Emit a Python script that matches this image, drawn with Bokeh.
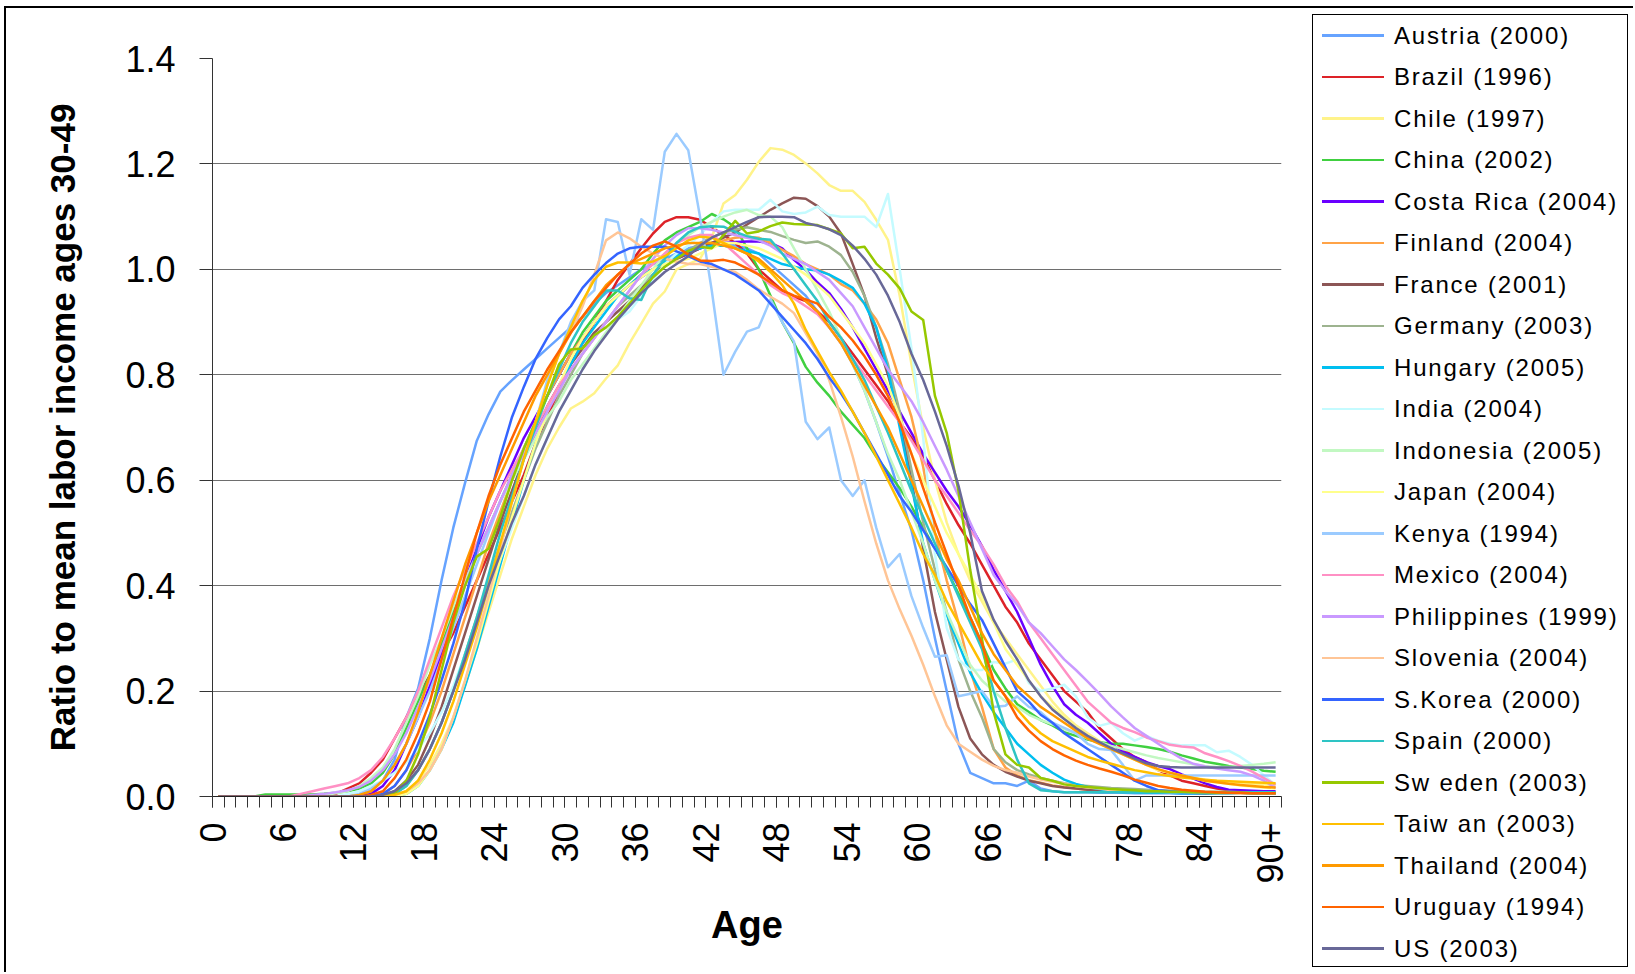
import math
from bokeh.plotting import figure
from bokeh.layouts import row
from bokeh.models import Range1d, FixedTicker, NumeralTickFormatter, Div
from bokeh.embed import file_html
from bokeh.resources import INLINE

ages = list(range(91))
tick_ages = [0, 6, 12, 18, 24, 30, 36, 42, 48, 54, 60, 66, 72, 78, 84, 90]
tick_labels = ["0", "6", "12", "18", "24", "30", "36", "42", "48", "54", "60", "66", "72", "78", "84", "90+"]
y_ticks = [0, 0.2, 0.4, 0.6, 0.8, 1.0, 1.2, 1.4]

names = ["Austria (2000)", "Brazil (1996)", "Chile (1997)", "China (2002)", "Costa Rica (2004)",
         "Finland (2004)", "France (2001)", "Germany (2003)", "Hungary (2005)", "India (2004)",
         "Indonesia (2005)", "Japan (2004)", "Kenya (1994)", "Mexico (2004)", "Philippines (1999)",
         "Slovenia (2004)", "S.Korea (2000)", "Spain (2000)", "Sw eden (2003)", "Taiw an (2003)",
         "Thailand (2004)", "Uruguay (1994)", "US (2003)"]

colors = ["#66A3FF", "#DD2228", "#FFF38A", "#40D040", "#6A00FF",
          "#FFA347", "#8C5656", "#9DB38F", "#00BFF0", "#C4FBFF",
          "#C2F8C2", "#FFFF8C", "#9BCBFF", "#FF90C4", "#C999FF",
          "#FFC596", "#3464FF", "#2EC4C4", "#96C800", "#FFBF00",
          "#FF9A00", "#FF6300", "#686898"]

austria = [
    0, 0, 0, 0, 0, 0, 0, 0, 0, 0,
    0, 0, 0.003, 0.01, 0.03, 0.07, 0.15, 0.205, 0.3, 0.41,
    0.51, 0.595, 0.675, 0.725, 0.768, 0.79, 0.81, 0.83, 0.85, 0.87,
    0.89, 0.91, 0.935, 0.955, 0.97, 0.985, 1.0, 1.01, 1.02, 1.03,
    1.04, 1.045, 1.05, 1.05, 1.045, 1.04, 1.03, 1.01, 0.99, 0.97,
    0.95, 0.92, 0.89, 0.86, 0.82, 0.77, 0.71, 0.645, 0.575, 0.505,
    0.41, 0.3, 0.2, 0.1, 0.045, 0.035, 0.025, 0.025, 0.02, 0.03,
    0.015, 0.01, 0.008, 0.008, 0.008, 0.007, 0.007, 0.007, 0.006, 0.006,
    0.006, 0.006, 0.005, 0.005, 0.005, 0.005, 0.005, 0.005, 0.005, 0.005,
    0.005]
brazil = [
    0, 0, 0, 0, 0, 0, 0, 0, 0, 0,
    0.005, 0.015, 0.025, 0.045, 0.07, 0.11, 0.15, 0.19, 0.23, 0.27,
    0.31, 0.36, 0.41, 0.46, 0.51, 0.56, 0.61, 0.67, 0.72, 0.77,
    0.82, 0.86, 0.9, 0.94, 0.98, 1.01, 1.04, 1.068, 1.09, 1.099,
    1.099, 1.094, 1.08, 1.065, 1.05, 1.03, 1.0, 0.98, 0.96, 0.948,
    0.94, 0.92, 0.9, 0.87, 0.84, 0.81, 0.78, 0.75, 0.71, 0.68,
    0.645, 0.6, 0.555, 0.515, 0.48, 0.44, 0.4, 0.36, 0.33, 0.29,
    0.26, 0.23, 0.2, 0.18, 0.16, 0.13, 0.11, 0.09, 0.075, 0.065,
    0.05, 0.04, 0.03, 0.025, 0.02, 0.015, 0.012, 0.01, 0.008, 0.006,
    0.005]
chile = [
    0, 0, 0, 0, 0, 0, 0, 0, 0, 0,
    0, 0, 0, 0, 0, 0.003, 0.01, 0.03, 0.06, 0.1,
    0.15, 0.21, 0.28, 0.35, 0.42, 0.49, 0.55, 0.61, 0.66, 0.7,
    0.736, 0.749, 0.765, 0.793, 0.818, 0.86, 0.897, 0.935, 0.958, 1.0,
    1.01, 1.02, 1.06, 1.125, 1.141, 1.17, 1.204, 1.23, 1.227, 1.217,
    1.201, 1.182, 1.16, 1.149, 1.149, 1.128, 1.094, 1.056, 0.95, 0.82,
    0.7, 0.6, 0.52, 0.46, 0.41, 0.37, 0.33, 0.3, 0.27, 0.24,
    0.21, 0.18, 0.155, 0.135, 0.12, 0.105, 0.09, 0.08, 0.07, 0.06,
    0.05, 0.045, 0.04, 0.036, 0.032, 0.03, 0.028, 0.026, 0.024, 0.022,
    0.02]
china = [
    0, 0, 0, 0, 0.004, 0.004, 0.004, 0.004, 0.004, 0.005,
    0.007, 0.01, 0.015, 0.025, 0.045, 0.08, 0.13, 0.18, 0.23, 0.29,
    0.35, 0.41, 0.46, 0.51, 0.56, 0.61, 0.66, 0.71, 0.76, 0.8,
    0.84, 0.88, 0.91, 0.94, 0.96, 0.98, 1.0, 1.03, 1.055, 1.07,
    1.08, 1.09, 1.105, 1.095, 1.08, 1.04, 1.0, 0.95, 0.9, 0.86,
    0.815, 0.785, 0.76, 0.73, 0.705, 0.68, 0.645, 0.615, 0.585, 0.55,
    0.51, 0.47, 0.43, 0.385, 0.34, 0.29, 0.24, 0.205, 0.175, 0.16,
    0.145, 0.135, 0.122, 0.115, 0.108, 0.103, 0.1, 0.1, 0.097, 0.094,
    0.09, 0.085, 0.078, 0.072, 0.066, 0.062, 0.058, 0.055, 0.052, 0.049,
    0.047]
costa_rica = [
    0, 0, 0, 0, 0, 0, 0, 0, 0, 0,
    0, 0, 0, 0.005, 0.02, 0.05, 0.1, 0.15, 0.21, 0.27,
    0.34, 0.41, 0.47, 0.53, 0.58, 0.63, 0.68, 0.72, 0.76, 0.8,
    0.84, 0.87, 0.9, 0.93, 0.95, 0.97, 0.985, 1.0, 1.01, 1.02,
    1.03, 1.04, 1.045, 1.05, 1.052, 1.053, 1.053, 1.05, 1.04, 1.018,
    0.999, 0.975, 0.955, 0.925, 0.89, 0.85, 0.81, 0.77, 0.73, 0.69,
    0.65, 0.615, 0.58, 0.55, 0.515, 0.475, 0.43, 0.39, 0.35, 0.3,
    0.25, 0.21, 0.175, 0.155, 0.14, 0.12, 0.1, 0.085, 0.075, 0.065,
    0.058, 0.052, 0.042, 0.034, 0.025, 0.018, 0.013, 0.012, 0.011, 0.01,
    0.01]
finland = [
    0, 0, 0, 0, 0, 0, 0, 0, 0, 0,
    0, 0, 0, 0, 0.005, 0.02, 0.05, 0.09, 0.14, 0.2,
    0.27, 0.34, 0.41, 0.48, 0.54, 0.6, 0.66, 0.71, 0.76, 0.8,
    0.84, 0.87, 0.9, 0.93, 0.95, 0.97, 0.99, 1.0, 1.015, 1.025,
    1.035, 1.045, 1.05, 1.055, 1.06, 1.062, 1.06, 1.05, 1.037, 1.025,
    1.01, 1.0, 0.99, 0.972, 0.96, 0.935, 0.905, 0.86, 0.79, 0.72,
    0.625, 0.5, 0.41, 0.33, 0.24, 0.17, 0.09, 0.055, 0.04, 0.031,
    0.026, 0.021, 0.018, 0.015, 0.013, 0.011, 0.01, 0.01, 0.009, 0.009,
    0.008, 0.008, 0.007, 0.007, 0.006, 0.006, 0.006, 0.005, 0.005, 0.005,
    0.005]
france = [
    0, 0, 0, 0, 0, 0, 0, 0, 0, 0,
    0, 0, 0, 0, 0.003, 0.01, 0.03, 0.06, 0.11, 0.17,
    0.24, 0.31, 0.38, 0.45, 0.52, 0.58, 0.64, 0.69, 0.74, 0.78,
    0.82, 0.85, 0.88, 0.9, 0.92, 0.94, 0.965, 0.99, 1.01, 1.02,
    1.03, 1.04, 1.05, 1.06, 1.07, 1.085, 1.099, 1.113, 1.125, 1.136,
    1.134, 1.12, 1.1, 1.068, 1.01, 0.95, 0.87, 0.8, 0.72, 0.6,
    0.47, 0.35, 0.26, 0.17, 0.11, 0.08, 0.06, 0.047, 0.038, 0.03,
    0.025, 0.02, 0.017, 0.015, 0.013, 0.012, 0.01, 0.01, 0.009, 0.009,
    0.008, 0.008, 0.007, 0.007, 0.006, 0.006, 0.006, 0.005, 0.005, 0.005,
    0.005]
germany = [
    0, 0, 0, 0, 0, 0, 0, 0, 0, 0,
    0, 0, 0, 0, 0, 0.005, 0.02, 0.05, 0.09, 0.14,
    0.2, 0.27, 0.34, 0.41, 0.48, 0.54, 0.6, 0.66, 0.71, 0.76,
    0.8, 0.84, 0.87, 0.9, 0.93, 0.95, 0.97, 0.99, 1.005, 1.02,
    1.035, 1.05, 1.06, 1.07, 1.075, 1.08, 1.075, 1.071, 1.063, 1.056,
    1.05, 1.053, 1.043, 1.027, 0.995, 0.95, 0.89, 0.82, 0.73, 0.62,
    0.52, 0.43, 0.35, 0.26, 0.2, 0.15, 0.09, 0.065, 0.05, 0.042,
    0.035, 0.03, 0.025, 0.022, 0.02, 0.018, 0.016, 0.015, 0.014, 0.013,
    0.012, 0.011, 0.01, 0.01, 0.009, 0.009, 0.009, 0.008, 0.008, 0.008,
    0.008]
hungary = [
    0, 0, 0, 0, 0, 0, 0, 0, 0, 0,
    0, 0, 0, 0, 0, 0, 0.005, 0.02, 0.05, 0.09,
    0.14, 0.21, 0.28, 0.36, 0.44, 0.52, 0.6, 0.67, 0.73, 0.78,
    0.82, 0.86, 0.89, 0.92, 0.95, 0.97, 0.99, 1.0, 1.015, 1.025,
    1.035, 1.04, 1.045, 1.045, 1.04, 1.035, 1.03, 1.02, 1.01, 1.005,
    1.0, 0.998, 0.99, 0.978, 0.965, 0.935, 0.89, 0.81, 0.7, 0.59,
    0.48, 0.41, 0.345, 0.29, 0.235, 0.195, 0.16, 0.13, 0.1, 0.08,
    0.06, 0.045, 0.032, 0.024, 0.018, 0.014, 0.01, 0.008, 0.008, 0.007,
    0.007, 0.007, 0.006, 0.006, 0.006, 0.005, 0.005, 0.005, 0.005, 0.005,
    0.005]
india = [
    0, 0, 0, 0, 0, 0, 0, 0, 0, 0,
    0, 0.005, 0.01, 0.02, 0.03, 0.045, 0.065, 0.09, 0.12, 0.16,
    0.21, 0.27, 0.33, 0.39, 0.45, 0.51, 0.57, 0.63, 0.68, 0.73,
    0.77, 0.81, 0.85, 0.88, 0.905, 0.92, 0.95, 0.98, 1.01, 1.03,
    1.045, 1.065, 1.09, 1.11, 1.113, 1.113, 1.113, 1.132, 1.11, 1.105,
    1.108, 1.119, 1.103, 1.1, 1.1, 1.1, 1.08, 1.143, 1.0, 0.85,
    0.68, 0.46, 0.32, 0.26, 0.24, 0.24, 0.255, 0.252, 0.26, 0.215,
    0.2, 0.205, 0.212, 0.19, 0.15, 0.134, 0.14, 0.12, 0.106, 0.115,
    0.106, 0.1, 0.097, 0.097, 0.097, 0.084, 0.087, 0.075, 0.06, 0.04,
    0.022]
indonesia = [
    0, 0, 0, 0, 0, 0, 0, 0, 0, 0.003,
    0.006, 0.01, 0.02, 0.035, 0.055, 0.09, 0.14, 0.19, 0.25, 0.3,
    0.36, 0.41, 0.46, 0.51, 0.56, 0.6, 0.64, 0.68, 0.72, 0.75,
    0.79, 0.82, 0.85, 0.88, 0.91, 0.94, 0.97, 1.0, 1.03, 1.05,
    1.065, 1.08, 1.09, 1.1, 1.108, 1.113, 1.103, 1.1, 1.08, 1.04,
    1.0, 0.96, 0.92, 0.87, 0.82, 0.77, 0.71, 0.65, 0.6, 0.54,
    0.48, 0.41, 0.35, 0.3, 0.25, 0.22, 0.2, 0.18, 0.17, 0.155,
    0.145, 0.137, 0.128, 0.12, 0.11, 0.103, 0.096, 0.09, 0.084, 0.078,
    0.073, 0.069, 0.065, 0.061, 0.058, 0.056, 0.056, 0.058, 0.06, 0.062,
    0.065]
japan = [
    0, 0, 0, 0, 0, 0, 0, 0, 0, 0,
    0, 0, 0, 0, 0, 0, 0.005, 0.02, 0.05, 0.09,
    0.15, 0.22, 0.29, 0.37, 0.45, 0.53, 0.6, 0.67, 0.73, 0.78,
    0.83, 0.87, 0.9, 0.93, 0.95, 0.97, 0.985, 1.0, 1.01, 1.015,
    1.02, 1.03, 1.04, 1.05, 1.05, 1.045, 1.04, 1.03, 1.02, 1.005,
    0.99, 0.97, 0.95, 0.92, 0.89, 0.86, 0.82, 0.78, 0.72, 0.65,
    0.6, 0.55, 0.5, 0.46, 0.42, 0.38, 0.33, 0.28, 0.25, 0.22,
    0.19, 0.17, 0.15, 0.13, 0.115, 0.1, 0.09, 0.08, 0.07, 0.06,
    0.05, 0.045, 0.04, 0.035, 0.03, 0.027, 0.024, 0.021, 0.019, 0.017,
    0.015]
kenya = [
    0, 0, 0, 0, 0, 0, 0, 0, 0, 0,
    0, 0, 0.005, 0.015, 0.03, 0.06, 0.1, 0.15, 0.2, 0.26,
    0.32, 0.38, 0.44, 0.5, 0.56, 0.61, 0.66, 0.71, 0.79, 0.84,
    0.9, 0.94, 0.96, 1.095, 1.09, 0.99, 1.095, 1.075, 1.223, 1.257,
    1.226, 1.1, 0.96, 0.8, 0.844, 0.882, 0.89, 0.943, 0.9, 0.863,
    0.711, 0.678, 0.7, 0.6, 0.57, 0.6, 0.51, 0.435, 0.46, 0.38,
    0.32, 0.265, 0.268, 0.19, 0.195, 0.2, 0.17, 0.172, 0.19, 0.17,
    0.16, 0.14, 0.13, 0.12, 0.1, 0.09, 0.088, 0.06, 0.03, 0.04,
    0.04, 0.04, 0.04, 0.04, 0.04, 0.04, 0.04, 0.04, 0.04, 0.04,
    0.04]
mexico = [
    0, 0, 0, 0, 0, 0, 0, 0.005, 0.01, 0.015,
    0.02, 0.025, 0.035, 0.05, 0.075, 0.11, 0.15, 0.2, 0.26, 0.32,
    0.38, 0.43, 0.48, 0.53, 0.58, 0.62, 0.66, 0.7, 0.74, 0.78,
    0.81, 0.84, 0.87, 0.9, 0.93, 0.96, 0.99, 1.01, 1.03, 1.05,
    1.06, 1.065, 1.065, 1.05, 1.03, 1.01, 0.99, 0.97, 0.955, 0.945,
    0.93, 0.915, 0.89, 0.86, 0.83, 0.8, 0.77, 0.74, 0.71, 0.675,
    0.638, 0.6, 0.57, 0.538, 0.505, 0.475, 0.44, 0.4, 0.37, 0.33,
    0.3, 0.27, 0.24, 0.21, 0.18, 0.16, 0.14, 0.13, 0.122, 0.112,
    0.105, 0.098, 0.095, 0.093, 0.082, 0.075, 0.067, 0.058, 0.047, 0.035,
    0.022]
philippines = [
    0, 0, 0, 0, 0, 0, 0, 0, 0.003, 0.005,
    0.008, 0.012, 0.018, 0.03, 0.05, 0.08, 0.12, 0.17, 0.22, 0.28,
    0.34, 0.4, 0.46, 0.51, 0.56, 0.61, 0.65, 0.69, 0.73, 0.77,
    0.81, 0.84, 0.87, 0.9, 0.93, 0.96, 0.99, 1.02, 1.045, 1.065,
    1.078, 1.078, 1.075, 1.07, 1.065, 1.06, 1.055, 1.045, 1.03, 1.02,
    1.01, 0.995, 0.98, 0.955, 0.93, 0.89, 0.85, 0.81, 0.78, 0.75,
    0.71, 0.665, 0.62, 0.57, 0.52, 0.47, 0.42, 0.39, 0.364, 0.33,
    0.31, 0.285, 0.26, 0.24, 0.218, 0.195, 0.171, 0.15, 0.13, 0.115,
    0.1, 0.085, 0.072, 0.062, 0.057, 0.053, 0.05, 0.047, 0.04, 0.03,
    0.016]
slovenia = [
    0, 0, 0, 0, 0, 0, 0, 0, 0, 0,
    0, 0, 0, 0, 0, 0.003, 0.01, 0.025, 0.05, 0.09,
    0.15, 0.22, 0.3, 0.38, 0.47, 0.56, 0.64, 0.71, 0.78, 0.84,
    0.879, 0.93, 0.99, 1.055, 1.07, 1.059, 1.043, 1.03, 1.02, 1.015,
    1.01, 1.01, 1.005, 1.0, 0.995, 0.98, 0.962, 0.948, 0.935, 0.917,
    0.879, 0.84, 0.79, 0.72, 0.645, 0.56, 0.48, 0.41, 0.355, 0.305,
    0.25, 0.19, 0.135, 0.1, 0.085, 0.07, 0.058, 0.05, 0.045, 0.038,
    0.032, 0.028, 0.024, 0.02, 0.017, 0.015, 0.012, 0.011, 0.01, 0.01,
    0.009, 0.008, 0.008, 0.007, 0.007, 0.006, 0.006, 0.005, 0.005, 0.005,
    0.005]
skorea = [
    0, 0, 0, 0, 0, 0, 0, 0, 0, 0,
    0, 0, 0, 0, 0.005, 0.02, 0.05, 0.1, 0.155, 0.22,
    0.29, 0.37, 0.47, 0.56, 0.645, 0.72, 0.777, 0.83, 0.87, 0.905,
    0.93, 0.965, 0.99, 1.012, 1.03, 1.04, 1.043, 1.043, 1.043, 1.034,
    1.025, 1.015, 1.01, 1.0, 0.99, 0.975, 0.96, 0.935, 0.91, 0.885,
    0.86, 0.83, 0.795, 0.765, 0.73, 0.69, 0.65, 0.61, 0.57, 0.54,
    0.505, 0.47, 0.435, 0.4, 0.365, 0.335, 0.29, 0.245, 0.2, 0.18,
    0.155, 0.14, 0.12, 0.105, 0.09, 0.075, 0.06, 0.045, 0.03, 0.02,
    0.012, 0.01, 0.008, 0.008, 0.008, 0.007, 0.007, 0.007, 0.006, 0.006,
    0.006]
spain = [
    0, 0, 0, 0, 0, 0, 0, 0, 0, 0,
    0, 0, 0, 0, 0, 0.005, 0.02, 0.05, 0.09, 0.14,
    0.2, 0.27, 0.34, 0.42, 0.5, 0.57, 0.64, 0.7, 0.76, 0.81,
    0.86, 0.9, 0.93, 0.96, 0.96, 0.945, 0.942, 0.99, 1.02, 1.05,
    1.07, 1.08, 1.082, 1.081, 1.071, 1.063, 1.058, 1.056, 1.03, 1.0,
    0.97, 0.94, 0.9, 0.87, 0.83, 0.79, 0.74, 0.69, 0.635, 0.58,
    0.53, 0.48, 0.43, 0.38, 0.33, 0.28, 0.2, 0.13, 0.07, 0.025,
    0.012, 0.01, 0.008, 0.008, 0.008, 0.008, 0.008, 0.008, 0.008, 0.008,
    0.008, 0.008, 0.008, 0.008, 0.008, 0.008, 0.008, 0.008, 0.008, 0.008,
    0.008]
sweden = [
    0, 0, 0, 0, 0, 0, 0, 0, 0, 0,
    0, 0, 0, 0, 0.002, 0.006, 0.03, 0.08, 0.15, 0.24,
    0.33, 0.4, 0.455, 0.47, 0.53, 0.6, 0.66, 0.71, 0.76, 0.82,
    0.848, 0.85, 0.875, 0.89, 0.91, 0.935, 0.96, 0.985, 1.005, 1.02,
    1.035, 1.043, 1.04, 1.065, 1.092, 1.068, 1.072, 1.082, 1.089, 1.086,
    1.085, 1.084, 1.076, 1.068, 1.04, 1.043, 1.011, 0.99, 0.964, 0.92,
    0.904, 0.76, 0.69, 0.58, 0.43, 0.3, 0.16, 0.08, 0.06, 0.055,
    0.035, 0.03, 0.023, 0.02, 0.018, 0.016, 0.014, 0.013, 0.012, 0.01,
    0.01, 0.009, 0.009, 0.008, 0.008, 0.007, 0.007, 0.007, 0.006, 0.006,
    0.006]
taiwan = [
    0, 0, 0, 0, 0, 0, 0, 0, 0, 0,
    0, 0, 0, 0, 0, 0.003, 0.01, 0.03, 0.07, 0.12,
    0.18, 0.25, 0.32, 0.4, 0.48, 0.56, 0.64, 0.71, 0.78, 0.84,
    0.89, 0.94, 0.98, 1.005, 1.013, 1.013, 1.011, 1.015, 1.025, 1.04,
    1.055, 1.062, 1.06, 1.05, 1.04, 1.03, 1.015, 0.995, 0.97, 0.935,
    0.885, 0.845, 0.805, 0.77, 0.73, 0.69, 0.645, 0.6, 0.555, 0.51,
    0.46, 0.42, 0.37, 0.33, 0.29, 0.25, 0.22, 0.19, 0.165, 0.14,
    0.12, 0.105, 0.095, 0.085, 0.075, 0.068, 0.062, 0.056, 0.05, 0.046,
    0.042, 0.039, 0.036, 0.034, 0.032, 0.03, 0.029, 0.028, 0.027, 0.026,
    0.025]
thailand = [
    0, 0, 0, 0, 0, 0, 0, 0, 0, 0,
    0, 0, 0.003, 0.01, 0.03, 0.06, 0.1, 0.16, 0.23, 0.3,
    0.37, 0.44, 0.5, 0.56, 0.61, 0.66, 0.71, 0.76, 0.8, 0.84,
    0.88, 0.91, 0.94, 0.97, 0.99, 1.01, 1.02, 1.03, 1.04, 1.045,
    1.05, 1.05, 1.05, 1.045, 1.04, 1.03, 1.02, 1.0, 0.98, 0.96,
    0.94, 0.92, 0.89, 0.86, 0.82, 0.78, 0.74, 0.7, 0.65, 0.6,
    0.55, 0.5, 0.45, 0.41, 0.36, 0.31, 0.27, 0.24, 0.21, 0.19,
    0.17, 0.155, 0.14, 0.125, 0.11, 0.1, 0.09, 0.08, 0.07, 0.06,
    0.052, 0.045, 0.04, 0.035, 0.03, 0.027, 0.024, 0.022, 0.02, 0.018,
    0.017]
uruguay = [
    0, 0, 0, 0, 0, 0, 0, 0, 0, 0,
    0, 0, 0, 0.003, 0.01, 0.035, 0.07, 0.12, 0.18, 0.26,
    0.34, 0.42, 0.5, 0.57, 0.63, 0.68, 0.73, 0.77, 0.81, 0.845,
    0.88, 0.91, 0.94, 0.965, 0.99, 1.01, 1.03, 1.045, 1.053, 1.043,
    1.028, 1.017, 1.016, 1.018, 1.013, 1.002, 0.99, 0.975, 0.96, 0.95,
    0.943, 0.935, 0.91, 0.89, 0.865, 0.835, 0.8, 0.76, 0.71, 0.65,
    0.585, 0.52, 0.46, 0.4, 0.34, 0.29, 0.22, 0.19, 0.15, 0.125,
    0.105, 0.09, 0.078, 0.068, 0.06, 0.053, 0.047, 0.04, 0.032, 0.026,
    0.02, 0.016, 0.013, 0.011, 0.009, 0.008, 0.007, 0.007, 0.006, 0.006,
    0.006]
us = [
    0, 0, 0, 0, 0, 0, 0, 0, 0, 0,
    0, 0, 0, 0, 0.003, 0.01, 0.025, 0.05, 0.09, 0.14,
    0.2, 0.26, 0.33, 0.4, 0.46, 0.52, 0.57, 0.63, 0.68, 0.73,
    0.77, 0.81, 0.845, 0.875, 0.905, 0.93, 0.955, 0.975, 0.995, 1.01,
    1.025, 1.045, 1.06, 1.07, 1.08, 1.09, 1.099, 1.1, 1.1, 1.099,
    1.088, 1.083, 1.076, 1.065, 1.045, 1.02, 0.99, 0.95, 0.9, 0.84,
    0.79, 0.73, 0.665, 0.59, 0.5, 0.39, 0.335, 0.295, 0.26, 0.22,
    0.19, 0.165, 0.147, 0.13, 0.115, 0.103, 0.092, 0.082, 0.072, 0.063,
    0.058, 0.056, 0.055, 0.055, 0.055, 0.055, 0.055, 0.055, 0.055, 0.055,
    0.055]

series = [austria, brazil, chile, china, costa_rica, finland, france, germany, hungary,
          india, indonesia, japan, kenya, mexico, philippines, slovenia, skorea, spain,
          sweden, taiwan, thailand, uruguay, us]

FONT = "Liberation Sans"
LW = 2.5

# ---------------- main chart ----------------
p = figure(width=1294, height=964, output_backend="svg", toolbar_location=None,
           x_range=Range1d(-0.5, 90.5), y_range=Range1d(0, 1.4),
           min_border_left=206, min_border_right=19, min_border_top=50, min_border_bottom=176)
p.outline_line_color = None
p.background_fill_color = "white"
p.border_fill_color = "white"

for col, vals in zip(colors, series):
    p.line(ages, vals, line_color=col, line_width=LW, line_join="round")

xa = p.xaxis[0]
xa.ticker = FixedTicker(ticks=[a - 0.5 for a in tick_ages],
                        minor_ticks=[k - 0.5 for k in range(92)])
xa.major_label_overrides = {a - 0.5: lab for a, lab in zip(tick_ages, tick_labels)}
xa.major_label_orientation = math.pi / 2
xa.major_tick_out = 11
xa.major_tick_in = 0
xa.minor_tick_out = 11
xa.minor_tick_in = 0
xa.major_label_standoff = 15
xa.axis_line_color = "#222222"
xa.major_tick_line_color = "#333333"
xa.minor_tick_line_color = "#333333"
xa.major_label_text_font = FONT
xa.major_label_text_font_size = "36px"
xa.major_label_text_color = "black"
xa.axis_label = "Age"
xa.axis_label_text_font = FONT
xa.axis_label_text_font_size = "38px"
xa.axis_label_text_font_style = "bold"
xa.axis_label_text_color = "black"
xa.axis_label_standoff = 17

ya = p.yaxis[0]
ya.ticker = FixedTicker(ticks=y_ticks, minor_ticks=[])
ya.formatter = NumeralTickFormatter(format="0.0")
ya.major_tick_out = 13
ya.major_tick_in = 0
ya.minor_tick_out = 0
ya.minor_tick_in = 0
ya.major_label_standoff = 24
ya.axis_line_color = "#333333"
ya.major_tick_line_color = "#333333"
ya.major_label_text_font = FONT
ya.major_label_text_font_size = "36px"
ya.major_label_text_color = "black"
ya.axis_label = "Ratio to mean labor income ages 30-49"
ya.axis_label_text_font = FONT
ya.axis_label_text_font_size = "35px"
ya.axis_label_text_font_style = "bold"
ya.axis_label_text_color = "black"
ya.axis_label_standoff = 40

p.xgrid.visible = False
p.ygrid.grid_line_color = "#6e6e6e"
p.ygrid.grid_line_width = 1

# ---------------- legend (HTML panel to the right of the plot) ----------------
rows_html = []
for i, (name, col) in enumerate(zip(names, colors)):
    cy = 20.7 + 41.5 * i
    rows_html.append(
        f'<div style="position:absolute;left:9px;top:{cy - 1.25:.2f}px;width:62px;height:2.5px;'
        f'background:{col};"></div>'
        f'<div style="position:absolute;left:81px;top:{cy - 16:.2f}px;height:32px;line-height:32px;'
        f'font-family:\'{FONT}\';font-size:24px;letter-spacing:1.8px;color:black;white-space:nowrap;">'
        f'{name}</div>')
legend_html = (
    '<div style="position:relative;width:333px;height:964px;background:white;">'
    '<div style="position:absolute;left:12px;top:6px;width:316px;height:953px;'
    'border:1px solid black;background:white;">'
    + "".join(rows_html) +
    '</div></div>')
legend_div = Div(text=legend_html, width=333, height=964, margin=(0, 0, 0, 0))

layout = row(p, legend_div, spacing=0)
layout.styles = {"border-top": "2px solid black", "border-left": "2px solid black",
                 "margin-left": "4px", "margin-top": "6px"}

open("out.html", "w").write(file_html(layout, INLINE))
